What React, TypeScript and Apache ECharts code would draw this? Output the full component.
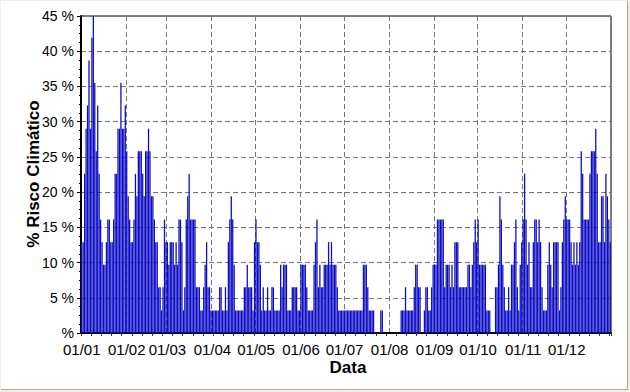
import React, { useEffect, useRef } from "react";
import * as echarts from "echarts";

// Month codes and lengths (one bar per day)
const MONTH_CODES = ["01", "02", "03", "04", "05", "06", "07", "08", "09", "10", "11", "12"];
const MONTH_DAYS = [31, 28, 31, 30, 31, 30, 31, 31, 30, 31, 30, 31];

// Daily climatic risk (%) per month
const JAN = [12.9, 12.9, 22.6, 29.0, 32.3, 38.7, 29.0, 41.9, 45.2, 35.5, 25.8, 32.3, 22.6, 16.1, 12.9, 9.7, 9.7, 12.9, 16.1, 16.1, 12.9, 12.9, 16.1, 22.6, 22.6, 29.0, 29.0, 35.5, 29.0, 29.0, 32.3];
const FEB = [25.8, 19.4, 16.1, 12.9, 12.9, 16.1, 22.6, 19.4, 25.8, 25.8, 25.8, 22.6, 19.4, 25.8, 25.8, 29.0, 25.8, 19.4, 19.4, 16.1, 12.9, 12.9, 6.5, 6.5, 3.2, 6.5, 16.1, 12.9];
const MAR = [12.9, 9.7, 12.9, 12.9, 12.9, 9.7, 12.9, 9.7, 16.1, 16.1, 12.9, 3.2, 6.5, 16.1, 19.4, 22.6, 16.1, 16.1, 16.1, 16.1, 6.5, 6.5, 6.5, 3.2, 3.2, 6.5, 9.7, 12.9, 6.5, 6.5, 3.2];
const APR = [3.2, 3.2, 3.2, 3.2, 3.2, 6.5, 6.5, 3.2, 3.2, 6.5, 3.2, 12.9, 16.1, 19.4, 16.1, 9.7, 3.2, 3.2, 3.2, 3.2, 3.2, 3.2, 6.5, 6.5, 9.7, 6.5, 6.5, 6.5, 3.2, 12.9];
const MAY = [16.1, 12.9, 12.9, 9.7, 3.2, 6.5, 3.2, 3.2, 6.5, 3.2, 3.2, 6.5, 6.5, 3.2, 3.2, 3.2, 3.2, 9.7, 6.5, 9.7, 9.7, 9.7, 3.2, 3.2, 3.2, 6.5, 6.5, 6.5, 6.5, 3.2, 3.2];
const JUN = [9.7, 9.7, 9.7, 9.7, 6.5, 3.2, 3.2, 3.2, 3.2, 9.7, 12.9, 16.1, 6.5, 9.7, 6.5, 6.5, 9.7, 9.7, 9.7, 12.9, 9.7, 12.9, 9.7, 9.7, 9.7, 6.5, 3.2, 3.2, 3.2, 3.2];
const JUL = [3.2, 3.2, 3.2, 3.2, 3.2, 3.2, 3.2, 3.2, 3.2, 3.2, 3.2, 3.2, 3.2, 9.7, 9.7, 9.7, 6.5, 3.2, 3.2, 3.2, 3.2, 0, 0, 0, 0, 3.2, 3.2, 0, 0, 0, 0];
const AUG = [0, 0, 0, 0, 0, 0, 0, 0, 3.2, 3.2, 3.2, 6.5, 3.2, 3.2, 3.2, 3.2, 3.2, 6.5, 9.7, 9.7, 6.5, 6.5, 0, 0, 3.2, 6.5, 6.5, 3.2, 3.2, 6.5, 9.7];
const SEP = [9.7, 9.7, 16.1, 16.1, 16.1, 16.1, 16.1, 6.5, 9.7, 9.7, 9.7, 6.5, 9.7, 6.5, 12.9, 12.9, 12.9, 6.5, 6.5, 6.5, 6.5, 6.5, 6.5, 9.7, 9.7, 6.5, 9.7, 12.9, 16.1, 12.9];
const OCT = [16.1, 9.7, 9.7, 9.7, 9.7, 9.7, 3.2, 3.2, 3.2, 0, 0, 0, 6.5, 6.5, 9.7, 19.4, 16.1, 9.7, 6.5, 3.2, 3.2, 6.5, 3.2, 9.7, 9.7, 12.9, 16.1, 6.5, 3.2, 9.7, 12.9];
const NOV = [16.1, 22.6, 16.1, 9.7, 12.9, 6.5, 6.5, 12.9, 16.1, 16.1, 12.9, 16.1, 12.9, 6.5, 3.2, 3.2, 3.2, 9.7, 12.9, 9.7, 6.5, 12.9, 12.9, 12.9, 12.9, 3.2, 6.5, 12.9, 16.1, 19.4];
const DEC = [16.1, 16.1, 16.1, 12.9, 9.7, 12.9, 9.7, 12.9, 9.7, 12.9, 25.8, 22.6, 16.1, 16.1, 16.1, 16.1, 22.6, 25.8, 25.8, 25.8, 29.0, 22.6, 12.9, 12.9, 19.4, 19.4, 12.9, 22.6, 19.4, 16.1, 12.9];

const MONTH_VALUES = [JAN, FEB, MAR, APR, MAY, JUN, JUL, AUG, SEP, OCT, NOV, DEC];

const Y_MIN = 0;
const Y_MAX = 45;
const Y_STEP = 5;

export default function App() {
  const ref = useRef<HTMLDivElement>(null);

  useEffect(() => {
    if (!ref.current) return;
    const chart = echarts.init(ref.current, undefined, { renderer: "svg" });

    const days: string[] = [];
    const values: number[] = [];
    MONTH_CODES.forEach((mm, m) => {
      for (let d = 1; d <= MONTH_DAYS[m]; d++) {
        days.push(String(d).padStart(2, "0") + "/" + mm);
        values.push(MONTH_VALUES[m][d - 1]);
      }
    });

    const font = '"Liberation Sans", Arial, sans-serif';

    chart.setOption({
      animation: false,
      backgroundColor: "transparent",
      grid: {
        left: 81,
        top: 16,
        width: 530,
        height: 317,
        show: true,
        borderColor: "#000",
        borderWidth: 1,
        backgroundColor: "#fff",
        containLabel: false,
      },
      xAxis: {
        type: "category",
        data: days,
        boundaryGap: true,
        axisLine: { show: true, lineStyle: { color: "#000", width: 2 } },
        axisTick: {
          show: true,
          interval: (i: number) => i % 7 === 0,
          length: 3,
          lineStyle: { color: "#333" },
        },
        axisLabel: {
          interval: (_i: number, v: string) => v.startsWith("01/"),
          formatter: (v: string) => v,
          color: "#000",
          fontSize: 15,
          fontFamily: font,
          margin: 9,
        },
        splitLine: {
          show: true,
          interval: (i: number, v: string) => i > 0 && v.startsWith("01/"),
          lineStyle: { color: "#777", type: [5, 3], width: 1 },
        },
      },
      yAxis: {
        type: "value",
        min: Y_MIN,
        max: Y_MAX,
        interval: Y_STEP,
        axisLine: { show: true, lineStyle: { color: "#000", width: 2 } },
        axisTick: { show: true, length: 4, lineStyle: { color: "#000" } },
        minorTick: { show: true, splitNumber: 4, length: 2, lineStyle: { color: "#000" } },
        axisLabel: {
          formatter: (v: number) => (v === 0 ? "%" : v + " %"),
          color: "#000",
          fontSize: 14,
          fontFamily: font,
          margin: 7,
        },
        splitLine: { show: true, lineStyle: { color: "#777", type: [5, 3], width: 1 } },
      },
      series: [
        {
          type: "bar",
          data: values,
          barCategoryGap: "12%",
          itemStyle: { color: "#0C0CC4" },
          clip: true,
        },
      ],
      graphic: [
        {
          type: "text",
          x: 348,
          y: 367,
          style: {
            text: "Data",
            font: 'bold 17px "Liberation Sans", Arial, sans-serif',
            fill: "#000",
            align: "center",
            verticalAlign: "middle",
          },
        },
        {
          type: "text",
          x: 33,
          y: 174,
          rotation: Math.PI / 2,
          style: {
            text: "% Risco Climático",
            font: 'bold 17px "Liberation Sans", Arial, sans-serif',
            fill: "#000",
            align: "center",
            verticalAlign: "middle",
          },
        },
      ],
    });

    return () => chart.dispose();
  }, []);

  return (
    <div style={{ position: "absolute", left: 0, top: 0, width: 630, height: 392, background: "#F1EFE2" }}>
      <div
        style={{
          position: "absolute",
          left: 1,
          top: 1,
          width: 626,
          height: 388,
          background: "#fff",
          borderRight: "1px solid #ACA899",
          borderBottom: "1px solid #ACA899",
        }}
      />
      <div ref={ref} style={{ position: "absolute", left: 0, top: 0, width: 630, height: 392 }} />
    </div>
  );
}
